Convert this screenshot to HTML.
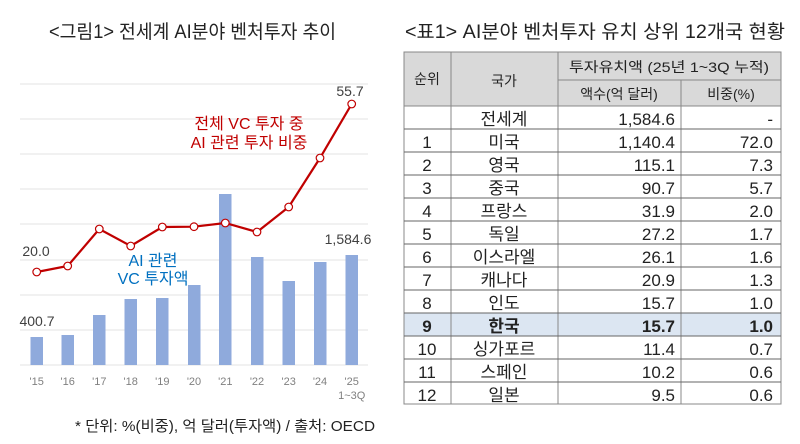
<!DOCTYPE html>
<html><head><meta charset="utf-8"><style>
html,body{margin:0;padding:0;background:#fff;}
svg{display:block;font-family:"Liberation Sans","Noto Sans CJK KR",sans-serif;}
</style></head><body>
<svg width="800" height="444" viewBox="0 0 800 444" xmlns="http://www.w3.org/2000/svg">
<text x="49" y="38" font-size="19" fill="#222" textLength="287" lengthAdjust="spacingAndGlyphs">&lt;그림1&gt; 전세계 AI분야 벤처투자 추이</text>
<text x="405" y="38" font-size="19" fill="#222" textLength="380" lengthAdjust="spacingAndGlyphs">&lt;표1&gt; AI분야 벤처투자 유치 상위 12개국 현황</text>
<g stroke="#e3e3e3" stroke-width="1">
<line x1="20" y1="84" x2="368" y2="84"/><line x1="20" y1="119" x2="368" y2="119"/><line x1="20" y1="154" x2="368" y2="154"/><line x1="20" y1="189" x2="368" y2="189"/><line x1="20" y1="224" x2="368" y2="224"/><line x1="20" y1="260" x2="368" y2="260"/><line x1="20" y1="295" x2="368" y2="295"/><line x1="20" y1="330" x2="368" y2="330"/><line x1="20" y1="365" x2="368" y2="365"/>
</g>
<g fill="#8faadc">
<rect x="30.5" y="337" width="12.5" height="28"/><rect x="61.5" y="335" width="12.5" height="30"/><rect x="93" y="315" width="12.5" height="50"/><rect x="124.5" y="299" width="12.5" height="66"/><rect x="156" y="298" width="12.5" height="67"/><rect x="188" y="285" width="12.5" height="80"/><rect x="219" y="194" width="12.5" height="171"/><rect x="251" y="257" width="12.5" height="108"/><rect x="282.5" y="281" width="12.5" height="84"/><rect x="314" y="262" width="12.5" height="103"/><rect x="345.5" y="255" width="12.5" height="110"/>
</g>
<polyline fill="none" stroke="#c00000" stroke-width="2.2" points="36.7,272 67.7,266 99.3,229 130.7,246 162.3,227 194,226.7 225.3,223 257,232 288.7,207 320,158 351.7,104"/>
<g fill="#fff" stroke="#c00000" stroke-width="1.2">
<circle cx="36.7" cy="272" r="3.8"/><circle cx="67.7" cy="266" r="3.8"/><circle cx="99.3" cy="229" r="3.8"/><circle cx="130.7" cy="246" r="3.8"/><circle cx="162.3" cy="227" r="3.8"/><circle cx="194" cy="226.7" r="3.8"/><circle cx="225.3" cy="223" r="3.8"/><circle cx="257" cy="232" r="3.8"/><circle cx="288.7" cy="207" r="3.8"/><circle cx="320" cy="158" r="3.8"/><circle cx="351.7" cy="104" r="3.8"/>
</g>
<g font-size="14" fill="#404040" text-anchor="middle">
<text x="350" y="96">55.7</text><text x="36" y="256">20.0</text><text x="37" y="326">400.7</text><text x="348" y="244">1,584.6</text>
</g>
<g font-size="16" fill="#c00000" text-anchor="middle"><text x="249" y="129">전체 VC 투자 중</text><text x="249" y="148">AI 관련 투자 비중</text></g>
<g font-size="16" fill="#0070c0" text-anchor="middle"><text x="153" y="266">AI 관련</text><text x="153" y="284">VC 투자액</text></g>
<g font-size="11" fill="#808080" text-anchor="middle">
<text x="36.7" y="385">'15</text><text x="67.7" y="385">'16</text><text x="99.3" y="385">'17</text><text x="130.7" y="385">'18</text><text x="162.3" y="385">'19</text><text x="194" y="385">'20</text><text x="225.3" y="385">'21</text><text x="257" y="385">'22</text><text x="288.7" y="385">'23</text><text x="320" y="385">'24</text><text x="351.7" y="385">'25</text><text x="351.7" y="399">1~3Q</text>
</g>
<text x="75" y="431" font-size="15" fill="#222" textLength="300" lengthAdjust="spacingAndGlyphs">* 단위: %(비중), 억 달러(투자액) / 출처: OECD</text>

<rect x="404" y="52" width="377" height="54" fill="#d9d9d9"/>
<rect x="404" y="313" width="377" height="23" fill="#dce6f2"/>
<g stroke="#888" stroke-width="1" fill="none">
<rect x="404" y="52" width="377" height="352"/>
<line x1="451" y1="52" x2="451" y2="404"/><line x1="558" y1="52" x2="558" y2="404"/><line x1="681" y1="80" x2="681" y2="404"/>
<line x1="558" y1="80" x2="781" y2="80"/>
<line x1="404" y1="106" x2="781" y2="106"/>
</g>
<g stroke="#666" stroke-width="1">
<line x1="404" y1="129" x2="781" y2="129"/><line x1="404" y1="152" x2="781" y2="152"/><line x1="404" y1="175" x2="781" y2="175"/><line x1="404" y1="198" x2="781" y2="198"/><line x1="404" y1="221" x2="781" y2="221"/><line x1="404" y1="244" x2="781" y2="244"/><line x1="404" y1="267" x2="781" y2="267"/><line x1="404" y1="290" x2="781" y2="290"/><line x1="404" y1="313" x2="781" y2="313"/><line x1="404" y1="336" x2="781" y2="336"/><line x1="404" y1="359" x2="781" y2="359"/><line x1="404" y1="382" x2="781" y2="382"/>
</g>
<g font-size="14" fill="#222" text-anchor="middle">
<text x="427" y="84">순위</text><text x="504" y="86">국가</text><text x="669" y="72" textLength="200" lengthAdjust="spacingAndGlyphs">투자유치액 (25년 1~3Q 누적)</text><text x="619" y="99">액수(억 달러)</text><text x="731" y="99">비중(%)</text>
</g>
<g font-size="17" fill="#222">
<g text-anchor="middle">
<text x="427" y="148">1</text><text x="427" y="171">2</text><text x="427" y="194">3</text><text x="427" y="217">4</text><text x="427" y="240">5</text><text x="427" y="263">6</text><text x="427" y="286">7</text><text x="427" y="309">8</text><text x="427" y="332" font-weight="bold">9</text><text x="427" y="355">10</text><text x="427" y="378">11</text><text x="427" y="401">12</text>
<text x="504" y="125">전세계</text><text x="504" y="148">미국</text><text x="504" y="171">영국</text><text x="504" y="194">중국</text><text x="504" y="217">프랑스</text><text x="504" y="240">독일</text><text x="504" y="263">이스라엘</text><text x="504" y="286">캐나다</text><text x="504" y="309">인도</text><text x="504" y="332" font-weight="bold">한국</text><text x="504" y="355">싱가포르</text><text x="504" y="378">스페인</text><text x="504" y="401">일본</text>
</g>
<g text-anchor="end">
<text x="675" y="125">1,584.6</text><text x="675" y="148">1,140.4</text><text x="675" y="171">115.1</text><text x="675" y="194">90.7</text><text x="675" y="217">31.9</text><text x="675" y="240">27.2</text><text x="675" y="263">26.1</text><text x="675" y="286">20.9</text><text x="675" y="309">15.7</text><text x="675" y="332" font-weight="bold">15.7</text><text x="675" y="355">11.4</text><text x="675" y="378">10.2</text><text x="675" y="401">9.5</text>
<text x="773" y="125">-</text><text x="773" y="148">72.0</text><text x="773" y="171">7.3</text><text x="773" y="194">5.7</text><text x="773" y="217">2.0</text><text x="773" y="240">1.7</text><text x="773" y="263">1.6</text><text x="773" y="286">1.3</text><text x="773" y="309">1.0</text><text x="773" y="332" font-weight="bold">1.0</text><text x="773" y="355">0.7</text><text x="773" y="378">0.6</text><text x="773" y="401">0.6</text>
</g>
</g>
</svg>
</body></html>
